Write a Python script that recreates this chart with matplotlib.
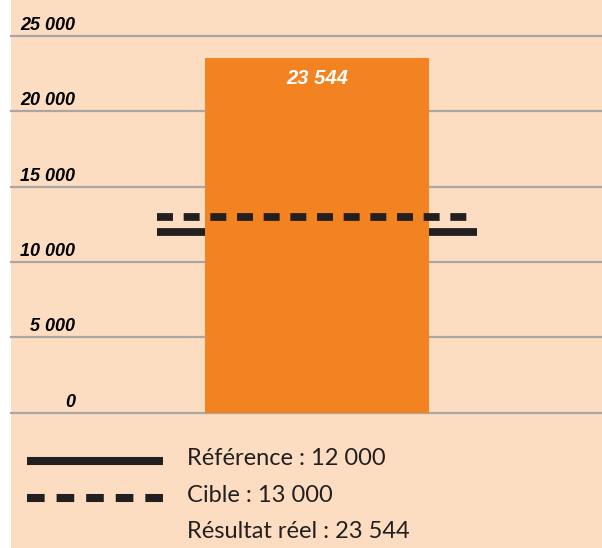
import matplotlib
matplotlib.use("Agg")
import matplotlib.pyplot as plt
from matplotlib.lines import Line2D
from matplotlib.patches import Rectangle

# Chart values
categories = ["Résultat réel"]
results = [23544]
reference = 12000
target = 13000
y_ticks = [0, 5000, 10000, 15000, 20000, 25000]
legend_labels = ["Référence : 12 000", "Cible : 13 000", "Résultat réel : 23 544"]


def fmt(v):
    return f"{v:,}".replace(",", " ")


peach = "#FCDDC2"
orange = "#F38321"
dark = "#231F20"
grid_col = "#ABA6A1"

plt.rcParams["lines.scale_dashes"] = False
num_font = ["Liberation Sans Narrow", "Liberation Sans", "DejaVu Sans"]
leg_font = ["Lato", "DejaVu Sans"]

W, H = 602, 548
fig = plt.figure(figsize=(W / 100, H / 100), dpi=100)
fig.patch.set_facecolor("white")
fig.add_artist(Rectangle((11 / W, 0), 1, 1, transform=fig.transFigure,
                         facecolor=peach, edgecolor="none", zorder=-10))

# axes: 0 at y=412.7 px, 25000 at y=36 px
ax = fig.add_axes([11 / W, (H - 412.7) / H, (W - 11) / W, (412.7 - 36) / H])
ax.set_facecolor("none")
ax.set_ylim(0, 25000)
ax.set_xlim(-1.366, 1.272)
for s in ax.spines.values():
    s.set_visible(False)
ax.set_xticks([])
ax.set_yticks([])

for v in y_ticks:
    ax.axhline(v, color=grid_col, lw=1.6, zorder=1, clip_on=False)
    ax.annotate(fmt(v), xy=(0.108, v), xycoords=ax.get_yaxis_transform(),
                xytext=(0, 4.3), textcoords="offset points", ha="right", va="baseline",
                fontsize=13, fontweight="bold", fontstyle="italic",
                family=num_font, color="black")

x = list(range(len(categories)))
ax.hlines(reference, -0.714, 0.714, color=dark, lw=5.6, zorder=2)
ax.bar(x, results, width=1.0, color=orange, zorder=3)
ax.hlines(target, -0.714, 0.714, color=dark, lw=5.6, zorder=4,
          linestyles=[(0, (11.5, 7.7))])

for xi, v in zip(x, results):
    ax.annotate(fmt(v), xy=(xi, v), xytext=(0, -19), textcoords="offset points",
                ha="center", va="baseline", fontsize=14.5, fontweight="bold",
                fontstyle="italic", family=num_font, color="white", zorder=5)

# legend drawn by hand
def px(xp, yp):
    return xp / W, 1 - yp / H

x0, y0 = px(27, 461)
x1, _ = px(163, 461)
fig.add_artist(Line2D([x0, x1], [y0, y0], color=dark, lw=5.8,
                      solid_capstyle="butt"))
_, y1 = px(27, 498)
fig.add_artist(Line2D([x0, x1], [y1, y1], color=dark, lw=5.8,
                      linestyle=(0, (12.7, 8.6)), dash_capstyle="butt"))

for i, lab in enumerate(legend_labels):
    tx, ty = px(187, 465 + 36.5 * i)
    fig.text(tx, ty, lab, ha="left", va="baseline", fontsize=17,
             family=leg_font, color=dark)

fig.savefig("out.png", dpi=100, facecolor=fig.get_facecolor())
